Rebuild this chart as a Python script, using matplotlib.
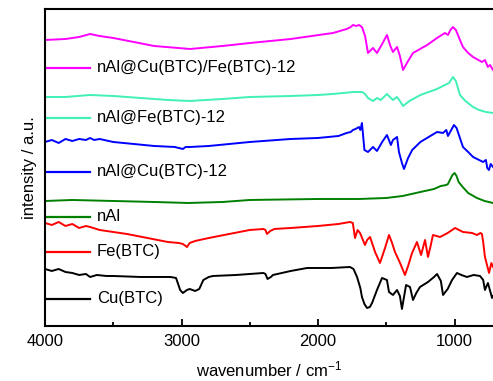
import numpy as np
import matplotlib.pyplot as plt

plt.rcParams['font.family'] = ['Liberation Sans', 'DejaVu Sans']
plt.rcParams['mathtext.fontset'] = 'custom'
plt.rcParams['mathtext.rm'] = 'Liberation Sans'
plt.rcParams['mathtext.default'] = 'rm'

# FTIR spectra, offset vertically (arbitrary units)
wn_cubtc = [4000, 3950, 3900, 3850, 3800, 3750, 3700, 3670, 3620, 3550, 3500, 3300, 3080, 3040,
            3010, 2990, 2960, 2940, 2900, 2870, 2840, 2800, 2770, 2600, 2400, 2385, 2370,
            2345, 2330, 2200, 2080, 1900, 1766, 1740, 1714, 1690, 1678, 1660, 1641, 1620,
            1604, 1568, 1531, 1495, 1480, 1451, 1421, 1400, 1385, 1355, 1326, 1304, 1280,
            1253, 1194, 1150, 1128, 1100, 1084, 1050, 1018, 982, 950, 909, 860, 813, 790,
            777, 765, 755, 735, 725, 718]
y_cubtc = [57, 55, 57, 54, 53, 51, 52, 49, 51, 50, 50, 49, 49, 48,
           36, 33, 36, 37, 35, 37, 46, 49, 50, 51, 53, 52, 47,
           49, 51, 55, 58, 58, 59, 57, 49, 38, 29, 22, 18, 19,
           23, 36, 48, 46, 34, 31, 36, 30, 17, 41, 39, 26, 33,
           39, 44, 49, 52, 45, 31, 37, 46, 53, 51, 49, 51, 50, 46,
           36, 40, 43, 33, 28, 30]

wn_febtc = [4000, 3950, 3900, 3850, 3800, 3750, 3700, 3670, 3600, 3500, 3400, 3250, 3100,
            3020, 2990, 2960, 2940, 2900, 2800, 2650, 2500, 2400, 2385, 2374, 2350, 2320,
            2200, 2000, 1850, 1766, 1745, 1729, 1710, 1692, 1656, 1640, 1619, 1582, 1546,
            1509, 1480, 1460, 1436, 1399, 1363, 1340, 1311, 1275, 1245, 1216, 1194, 1175,
            1158, 1106, 1050, 996, 938, 872, 835, 810, 799, 790, 777, 760, 747, 730, 718]
y_febtc = [103, 101, 104, 100, 102, 98, 100, 99, 96, 94, 92, 88, 84,
           83, 82, 79, 83, 85, 88, 92, 96, 97, 96, 92, 95, 97,
           98, 100, 102, 104, 103, 88, 96, 93, 81, 86, 89, 74, 63,
           78, 91, 84, 74, 63, 51, 60, 73, 84, 71, 86, 69, 80,
           91, 89, 93, 98, 94, 93, 91, 93, 92, 84, 69, 60, 53, 63, 59]

wn_nal = [4000, 3800, 3500, 3200, 2950, 2700, 2500, 2000, 1700, 1500, 1380, 1250, 1150,
          1100, 1060, 1048, 1030, 1015, 1000, 985, 970, 940, 900, 836, 780, 718]
y_nal = [125, 126, 125, 124, 123, 124, 126, 127, 127, 128, 130, 134, 137,
         140, 141, 142, 147, 151, 153, 150, 144, 139, 133, 128, 125, 123]

wn_cu12 = [4000, 3950, 3900, 3850, 3800, 3750, 3700, 3670, 3640, 3600, 3500, 3350, 3200,
           3050, 2990, 2970, 2938, 2800, 2650, 2500, 2200, 2000, 1850, 1790, 1760, 1744,
           1725, 1700, 1690, 1678, 1660, 1634, 1597, 1568, 1530, 1495, 1466, 1451, 1421,
           1407, 1385, 1370, 1340, 1310, 1250, 1128, 1085, 1060, 1048, 1020, 1004, 985,
           938, 900, 864, 820, 791, 770, 760, 748, 735, 718]
y_cu12 = [184, 186, 183, 187, 185, 187, 186, 188, 186, 187, 184, 182, 180,
          179, 177, 179, 179, 180, 182, 184, 187, 188, 190, 193, 194, 196,
          197, 199, 196, 203, 176, 174, 179, 175, 184, 191, 181, 186, 189,
          174, 163, 157, 168, 176, 184, 194, 193, 196, 190, 197, 201, 198,
          179, 174, 169, 166, 164, 166, 158, 156, 162, 159]

wn_fe12 = [4000, 3850, 3670, 3500, 3300, 3100, 2938, 2700, 2500, 2200, 2000, 1890, 1740,
           1700, 1678, 1655, 1634, 1597, 1568, 1540, 1495, 1451, 1421, 1400, 1377, 1330,
           1250, 1128, 1070, 1040, 1011, 990, 960, 920, 864, 820, 770, 718]
y_fe12 = [229, 229, 231, 230, 228, 226, 225, 227, 229, 230, 231, 232, 234,
          234, 234, 232, 228, 225, 228, 226, 232, 226, 229, 225, 220, 225,
          231, 237, 241, 243, 249, 245, 231, 225, 219, 216, 214, 213]

wn_cufe12 = [4000, 3850, 3750, 3670, 3600, 3500, 3350, 3200, 2938, 2700, 2498, 2200, 1890,
             1790, 1760, 1744, 1720, 1700, 1678, 1655, 1634, 1597, 1568, 1530, 1495, 1470,
             1451, 1421, 1400, 1377, 1340, 1304, 1200, 1128, 1070, 1048, 1030, 1011, 990,
             960, 938, 900, 864, 799, 777, 765, 755, 740, 718]
y_cufe12 = [286, 287, 289, 292, 290, 288, 284, 280, 277, 280, 283, 287, 293,
            297, 299, 301, 300, 301, 299, 290, 273, 278, 273, 282, 291, 280,
            274, 279, 270, 256, 265, 273, 281, 288, 293, 291, 296, 299, 296,
            286, 279, 273, 269, 264, 266, 262, 259, 261, 256]

labels = ['Cu(BTC)', 'Fe(BTC)', 'nAl', 'nAl@Cu(BTC)-12', 'nAl@Fe(BTC)-12',
          'nAl@Cu(BTC)/Fe(BTC)-12']
colors = ['black', '#ff0000', '#008000', '#0000ff', '#40f0b8', '#ff00ff']
label_y = [27, 74, 109, 154, 208, 258]

spectra = [(wn_cubtc, y_cubtc), (wn_febtc, y_febtc), (wn_nal, y_nal),
           (wn_cu12, y_cu12), (wn_fe12, y_fe12), (wn_cufe12, y_cufe12)]

fig = plt.figure(figsize=(4.93, 3.81), dpi=100)
ax = fig.add_axes([0.0913, 0.1444, 0.9087, 0.8320])

for (wn, y), c, lab, ly in zip(spectra, colors, labels, label_y):
    ax.plot(wn, y, color=c, lw=1.4)
    ax.plot([4000, 3670], [ly, ly], color=c, lw=1.6)
    ax.text(3620, ly, lab, color='black', fontsize=12, va='center', ha='left')

ax.set_xlim(4000, 718)
ax.set_ylim(0, 317)
ax.set_xticks([4000, 3000, 2000, 1000])
ax.set_xticks([3500, 2500, 1500], minor=True)
ax.set_yticks([])
ax.tick_params(axis='x', which='major', direction='in', length=5, width=1.3,
               labelsize=12, pad=6)
ax.tick_params(axis='x', which='minor', direction='in', length=3, width=1.3)
for s in ['left', 'bottom', 'top']:
    ax.spines[s].set_linewidth(1.5)
ax.spines['right'].set_visible(False)

ax.set_xlabel('wavenumber / cm$^{-1}$', fontsize=12, labelpad=7)
ax.set_ylabel('intensity / a.u.', fontsize=12, labelpad=6)

fig.savefig('out.png', dpi=100)
